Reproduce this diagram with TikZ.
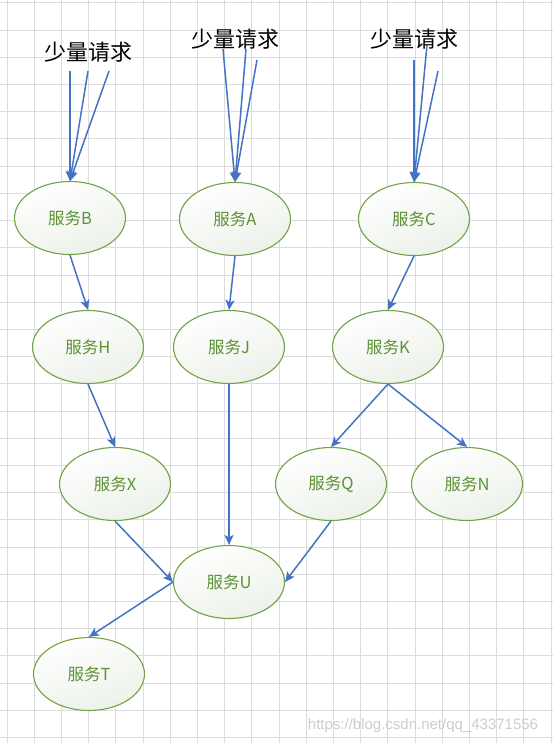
\documentclass[tikz,border=0pt]{standalone}
\usepackage{fontspec}
\setmainfont{Liberation Sans}
\newfontfamily\cjk{Noto Sans CJK SC}
\usetikzlibrary{arrows.meta,shapes.geometric}
\definecolor{gridc}{RGB}{220,220,220}
\definecolor{arrowc}{RGB}{68,114,196}
\definecolor{nodeborder}{RGB}{112,163,70}
\definecolor{nodetext}{RGB}{92,145,52}
\definecolor{nodefill}{RGB}{236,241,233}
\definecolor{wmark}{RGB}{205,205,205}
\begin{document}
\begin{tikzpicture}[x=1pt,y=-1pt,
  svc/.style={ellipse, draw=nodeborder, line width=1.1pt, minimum width=111pt, minimum height=73pt, inner sep=0pt, top color=white, bottom color=nodefill, shading angle=20, text=nodetext, font=\cjk\fontsize{16.5}{19}\selectfont},
  req/.style={font=\cjk\fontsize{22}{26}\selectfont, text=black},
  flow/.style={draw=arrowc, line width=1.5pt, -{Stealth[length=10pt,width=9pt,inset=2.5pt]}},
  gridline/.style={draw=gridc, line width=1pt},
]
\useasboundingbox (0,0) rectangle (553,743);
\fill[white] (0,0) rectangle (553,743);
\foreach \i in {0,...,20} \draw[gridline] ({7+27.2*\i},0) -- ({7+27.2*\i},743);
\foreach \j in {0,...,27} \draw[gridline] (0,{3+27.2*\j}) -- (553,{3+27.2*\j});

% request labels
\node[req] (r1) at (88,52) {少量请求};
\node[req] (r2) at (235,39) {少量请求};
\node[req] (r3) at (414,39) {少量请求};

% services
\node[svc] (B) at (70,218) {服务B};
\node[svc] (A) at (235,219) {服务A};
\node[svc] (C) at (414,219) {服务C};
\node[svc] (H) at (88,347) {服务H};
\node[svc] (J) at (229,347) {服务J};
\node[svc] (K) at (388,347) {服务K};
\node[svc] (X) at (115,484) {服务X};
\node[svc] (Q) at (331,484) {服务Q};
\node[svc] (N) at (467,484) {服务N};
\node[svc] (U) at (229,582) {服务U};
\node[svc] (T) at (89,674) {服务T};

% request line starts
\coordinate (b1) at (70,71);
\coordinate (b2) at (88,71);
\coordinate (b3) at (109,71);
\coordinate (a1) at (223,49);
\coordinate (a2) at (246,49);
\coordinate (a3) at (257,60);
\coordinate (c1) at (414,60);
\coordinate (c2) at (427,45);
\coordinate (c3) at (438,71);

\foreach \s in {b1,b2,b3} \draw[flow] (\s) -- (B.north);
\foreach \s in {a1,a2,a3} \draw[flow] (\s) -- (A.north);
\foreach \s in {c1,c2,c3} \draw[flow] (\s) -- (C.north);

\draw[flow] (B.south) -- (H.north);
\draw[flow] (A.south) -- (J.north);
\draw[flow] (C.south) -- (K.north);
\draw[flow] (H.south) -- (X.north);
\draw[flow] (J.south) -- (U.north);
\draw[flow] (K.south) -- (Q.north);
\draw[flow] (K.south) -- (N.north);
\draw[flow] (X.south) -- (U.west);
\draw[flow] (Q.south) -- (U.east);
\draw[flow] (U.west) -- (T.north);

\node[font=\fontsize{15}{18}\selectfont, text=wmark] (wm) at (423,726) {https://blog.csdn.net/qq\_43371556};
\end{tikzpicture}
\end{document}
